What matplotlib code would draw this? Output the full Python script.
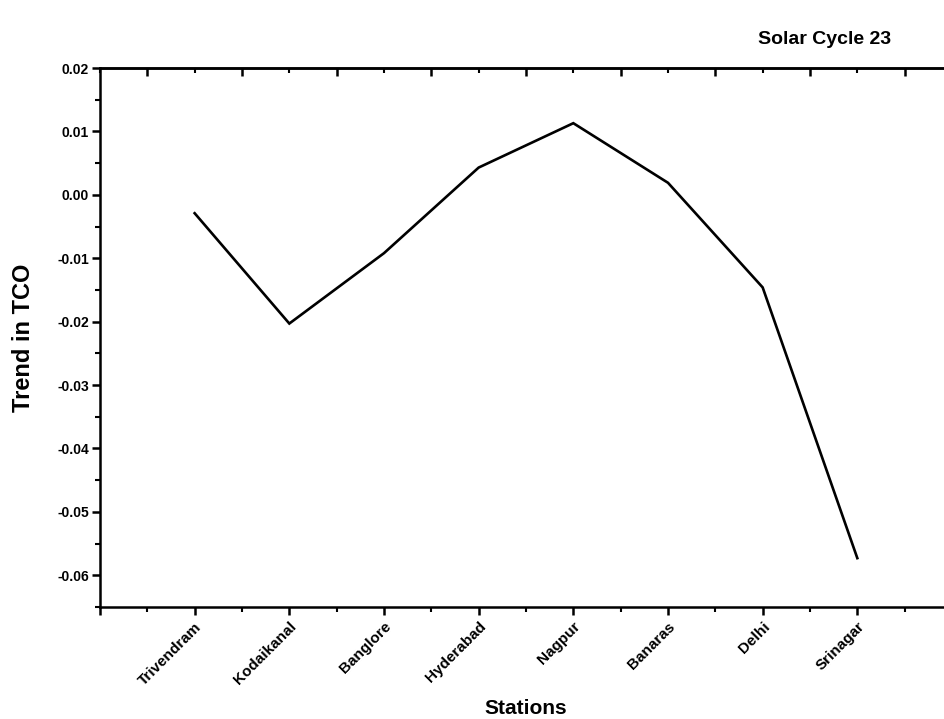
import matplotlib
matplotlib.use('Agg')
import matplotlib.pyplot as plt
from matplotlib.ticker import MultipleLocator, FixedLocator, NullFormatter

plt.rcParams['font.family'] = ['Liberation Sans', 'DejaVu Sans']
plt.rcParams['font.weight'] = 'bold'

# trend in total column ozone per station
stations = ['Trivendram', 'Kodaikanal', 'Banglore', 'Hyderabad',
            'Nagpur', 'Banaras', 'Delhi', 'Srinagar']
trend = [-0.0029, -0.0203, -0.0092, 0.0043, 0.0113, 0.0019, -0.0146, -0.0573]
positions = list(range(1, len(stations) + 1))

fig = plt.figure(figsize=(9.45, 7.19), dpi=100)
ax = fig.add_axes([0.1058, 0.1558, 0.9016, 0.7496])

ax.plot(positions, trend, color='k', linewidth=1.9, solid_joinstyle='miter')

ax.set_xlim(0, 9)
ax.set_ylim(-0.065, 0.02)

for side in ['left', 'bottom', 'top']:
    ax.spines[side].set_linewidth(1.8)
ax.spines['right'].set_visible(False)

# bottom axis: station names on integer ticks, minors at halves
ax.xaxis.set_major_locator(FixedLocator(range(0, 10)))
ax.set_xticklabels([''] + stations + [''], rotation=45, ha='right',
                   rotation_mode='anchor', fontsize=11, fontweight='bold')
ax.xaxis.set_minor_locator(FixedLocator([k + 0.5 for k in range(9)]))
ax.tick_params(axis='x', which='major', direction='out', length=6, width=1.8, pad=3)
ax.tick_params(axis='x', which='minor', direction='out', length=3.5, width=1.5)

# left axis
ax.yaxis.set_major_locator(MultipleLocator(0.01))
ax.yaxis.set_minor_locator(MultipleLocator(0.005))
ax.yaxis.set_major_formatter(plt.FuncFormatter(lambda v, p: '%.2f' % v))
ax.tick_params(axis='y', which='major', direction='out', length=6, width=1.8,
               labelsize=10, pad=2)
ax.tick_params(axis='y', which='minor', direction='out', length=3.5, width=1.5)
for lab in ax.get_yticklabels():
    lab.set_fontweight('bold')

# top axis with inward ticks only
top = ax.secondary_xaxis('top')
top.xaxis.set_major_locator(FixedLocator([k + 0.5 for k in range(9)]))
top.xaxis.set_minor_locator(FixedLocator(range(0, 10)))
top.xaxis.set_major_formatter(NullFormatter())
top.tick_params(which='major', direction='in', length=6, width=1.8)
top.tick_params(which='minor', direction='in', length=3.5, width=1.5)
top.spines['top'].set_linewidth(1.8)

ax.set_xlabel('Stations', fontsize=15, fontweight='bold', labelpad=8)
ax.set_ylabel('Trend in TCO', fontsize=17, fontweight='bold', labelpad=16)

fig.text(0.873, 0.945, 'Solar Cycle 23', fontsize=14, fontweight='bold',
         ha='center', va='center')

fig.savefig('out.png', dpi=100)
